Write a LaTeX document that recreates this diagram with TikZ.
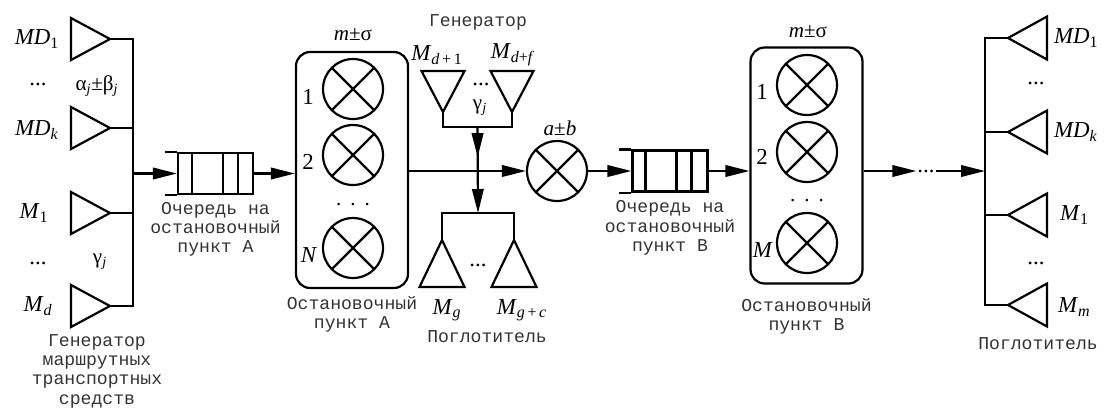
\documentclass[tikz,border=0pt]{standalone}
\usepackage{fontspec}
\setmainfont{Liberation Serif}
\setmonofont{Liberation Mono}
\usepackage{tikz}
\usetikzlibrary{arrows.meta,positioning,calc}

\begin{document}
\begin{tikzpicture}[x=0.02cm, y=-0.02cm, line width=1.25pt, >={Triangle[length=0.48cm,width=0.23cm]},
    srv/.style={draw, circle, minimum size=1.2cm, inner sep=0pt, path picture={\draw[line width=1.25pt] (path picture bounding box.north west) -- (path picture bounding box.south east) (path picture bounding box.north east) -- (path picture bounding box.south west);}},
    stopbox/.style={draw, rectangle, rounded corners=0.28cm, minimum width=2.24cm, minimum height=4.72cm},
    queue/.style={draw, rectangle, inner sep=0pt, minimum width=1.5cm, minimum height=0.82cm},
    lbl/.style={inner sep=0pt, font=\fontsize{13}{15}\selectfont},
    grk/.style={inner sep=0pt, font=\fontsize{12}{14}\selectfont},
    txt/.style={inner sep=0pt, align=center, text=black!80, font=\ttfamily\fontsize{10.3}{11}\selectfont}]
    \useasboundingbox (0,0) rectangle (1104,407);

    % generator of route vehicles
    \foreach \n/\p in {md1/39, mdk/128, m1/213, md/306} {
        \coordinate (\n) at (110,\p);
        \draw (\n) -- ++(-39,-21) -- ++(0,42) -- cycle;
    }
    \coordinate (lbus) at (133,0);
    \node[lbl] (lmd1) at (37,39) {\textit{MD}\textsubscript{1}};
    \node[lbl] (lmdk) at (37,130) {\textit{MD}\textsubscript{\textit{k}}};
    \node[lbl] (lm1) at (34,213) {\textit{M}\textsubscript{1}};
    \node[lbl] (lmd) at (38,306) {\textit{M}\textsubscript{\textit{d}}};
    \node[lbl] (dl1) at (38,84) {...};
    \node[lbl] (dl2) at (38,263) {...};
    \node[grk] (ab) at (97,86) {α\textsubscript{\textit{j}}±β\textsubscript{\textit{j}}};
    \node[grk] (gl) at (100,262) {γ\textsubscript{\textit{j}}};
    \node[txt, anchor=north] (gen) at (97,333) {Генератор\\маршрутных\\транспортных\\средств};
    \draw (md1) -- (md1 -| lbus) -- (md -| lbus) -- (md);
    \draw (mdk) -- (mdk -| lbus);
    \draw (m1) -- (m1 -| lbus);

    % queue and stop A
    \node[queue] (qa) at (215.5,173.5) {};
    \draw (qa.north west) -- ++(-12,0) (qa.south west) -- ++(-12,0);
    \foreach \d in {15,46,61}
        \draw ($(qa.north west)+(\d,0)$) -- ($(qa.south west)+(\d,0)$);
    \node[txt, below=0.12cm of qa] (qatxt) {Очередь на\\остановочный\\пункт А};
    \node[stopbox] (boxa) at (352,170) {};
    \node[srv] (ca1) at (353,89) {};
    \node[srv] (ca2) at (353,155) {};
    \node[srv] (can) at (353,248) {};
    \node[lbl] at (308,97) {1};
    \node[lbl] at (308,162) {2};
    \node[lbl] at (309,255) {\textit{N}};
    \node[grk] at (353,205) {.\hspace{0.18cm}.\hspace{0.18cm}.};
    \node[grk] at (353,35) {\textit{m}±σ};
    \node[txt, below=0.12cm of boxa] (boxatxt) {Остановочный\\пункт А};
    \draw[->] (lbus |- qa.west) -- (qa.west);
    \draw[->] (qa.east) -- (qa.east -| boxa.west);

    % generator and absorber between the stops
    \node[txt] (gen2) at (478,22) {Генератор};
    \foreach \n/\p in {gd1/443, gdf/512} {
        \coordinate (\n) at (\p,112);
        \draw (\n) -- ++(-21.5,-41) -- ++(43,0) -- cycle;
    }
    \node[lbl] at (437,55) {\textit{M}\textsubscript{\textit{d}\,+\,1}};
    \node[lbl] at (513,55) {\textit{M}\textsubscript{\textit{d}+\textit{f}}};
    \node[lbl] at (481,84) {...};
    \node[grk] at (480,108) {γ\textsubscript{\textit{j}}};
    \draw (gd1) -- ++(0,15) -| (gdf);
    \coordinate (gj) at ($(gd1)!0.5!(gdf)+(0,15)$);
    \foreach \n/\p in {amg/442, amgc/514} {
        \coordinate (\n) at (\p,240);
        \draw (\n) -- ++(-22.5,47) -- ++(45,0) -- cycle;
    }
    \coordinate (aj) at ($(amg)!0.5!(amgc)+(0,-27)$);
    \draw (amg) -- ++(0,-27) -| (amgc);
    \node[lbl] at (478,265) {...};
    \node[lbl] at (447,310) {\textit{M}\textsubscript{\textit{g}}};
    \node[lbl] at (522,310) {\textit{M}\textsubscript{\textit{g}\,+\,\textit{c}}};
    \node[txt] (abs1) at (487,337) {Поглотитель};
    \draw[->] (gj) -- ($(gj)!0.35!(aj)$);
    \draw[->] ($(gj)!0.3!(aj)$) -- (aj);

    % server, queue and stop B
    \node[srv] (cab) at (557,171) {};
    \node[grk] at (560,128) {\textit{a}±\textit{b}};
    \draw[->] (boxa.east |- cab.west) -- (cab.west);
    \node[queue] (qb) at (670,171) {};
    \draw (qb.north west) -- ++(-12,0) (qb.south west) -- ++(-12,0);
    \foreach \d in {14,45,60}
        \draw ($(qb.north west)+(\d,0)$) -- ($(qb.south west)+(\d,0)$);
    \node[txt, below=0.14cm of qb] (qbtxt) {Очередь на\\остановочный\\пункт В};
    \draw[->] (cab.east) -- (qb.west);
    \node[stopbox] (boxb) at (806.5,165.5) {};
    \node[srv] (cb1) at (807,85) {};
    \node[srv] (cb2) at (807,152) {};
    \node[srv] (cbm) at (807,243) {};
    \node[lbl] at (762,92) {1};
    \node[lbl] at (762,157) {2};
    \node[lbl] at (763,250) {\textit{M}};
    \node[grk] at (807,201) {.\hspace{0.18cm}.\hspace{0.18cm}.};
    \node[grk] at (808,32) {\textit{m}±σ};
    \node[txt, below=0.26cm of boxb] (boxbtxt) {Остановочный\\пункт В};
    \draw[->] (qb.east) -- (qb.east -| boxb.west);

    % absorber on the right
    \node[lbl] (mid) at (926,171) {...};
    \coordinate (rbus) at (985,0);
    \draw[->] (boxb.east |- qb.east) -- (mid.west |- qb.east);
    \draw[->] (mid.east |- qb.east) -- (rbus |- qb.east);
    \foreach \n/\p in {rmd1/38, rmdk/132, rm1/215, rmm/305} {
        \coordinate (\n) at (1008,\p);
        \draw (\n) -- ++(39,-21.5) -- ++(0,43) -- cycle;
    }
    \draw (rmd1) -- (rmd1 -| rbus) -- (rmm -| rbus) -- (rmm);
    \draw (rmdk) -- (rmdk -| rbus);
    \draw (rm1) -- (rm1 -| rbus);
    \node[lbl, anchor=west] at (1053,38) {\textit{MD}\textsubscript{1}};
    \node[lbl, anchor=west] at (1053,132) {\textit{MD}\textsubscript{\textit{k}}};
    \node[lbl, anchor=west] at (1059,215) {\textit{M}\textsubscript{1}};
    \node[lbl, anchor=west] at (1057,307) {\textit{M}\textsubscript{\textit{m}}};
    \node[lbl] at (1036,83) {...};
    \node[lbl] at (1036,263) {...};
    \node[txt] (abs2) at (1038,344) {Поглотитель};
\end{tikzpicture}
\end{document}
